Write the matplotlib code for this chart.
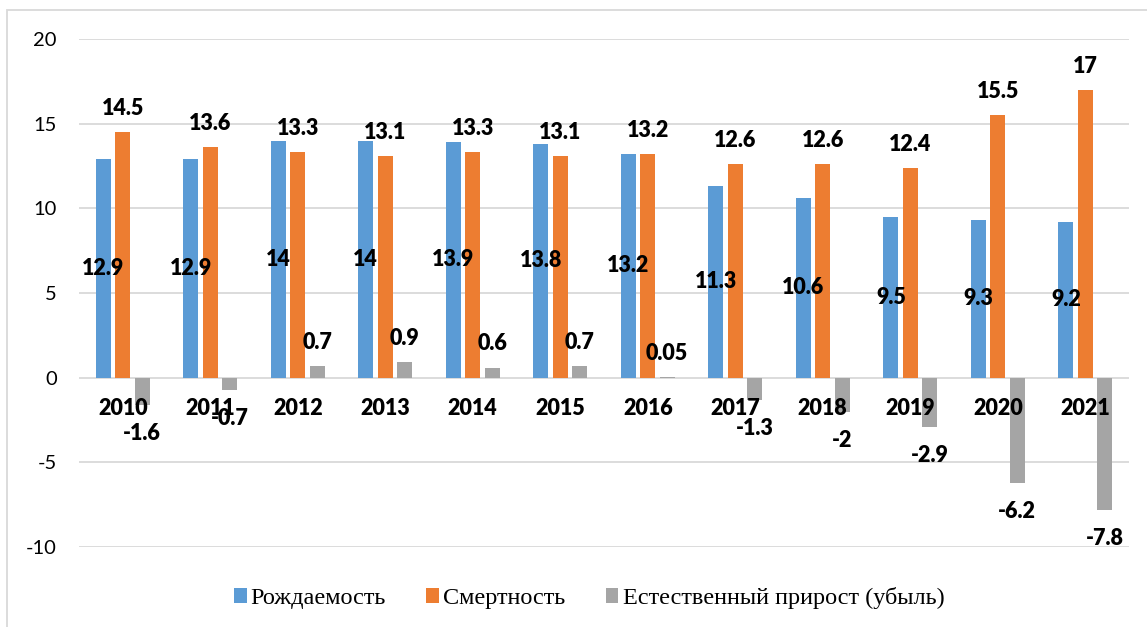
import matplotlib.pyplot as plt
from matplotlib.patches import Rectangle
import numpy as np

plt.rcParams['axes.unicode_minus'] = False

years = ['2010', '2011', '2012', '2013', '2014', '2015',
         '2016', '2017', '2018', '2019', '2020', '2021']
rozhd = [12.9, 12.9, 14, 14, 13.9, 13.8, 13.2, 11.3, 10.6, 9.5, 9.3, 9.2]
smert = [14.5, 13.6, 13.3, 13.1, 13.3, 13.1, 13.2, 12.6, 12.6, 12.4, 15.5, 17]
prirost = [-1.6, -0.7, 0.7, 0.9, 0.6, 0.7, 0.05, -1.3, -2, -2.9, -6.2, -7.8]

c_blue = '#5b9bd5'
c_orange = '#ed7d31'
c_gray = '#a5a5a5'
grid_c = '#d9d9d9'

fig = plt.figure(figsize=(11.47, 6.27), dpi=100)
ax = fig.add_axes([79 / 1147, 1 - 547 / 627, 1050 / 1147, 508 / 627])

x = np.arange(len(years))
w = 0.17
step = 0.222

b1 = ax.bar(x - step, rozhd, w, color=c_blue, label='Рождаемость', zorder=3)
b2 = ax.bar(x, smert, w, color=c_orange, label='Смертность', zorder=3)
b3 = ax.bar(x + step, prirost, w, color=c_gray, label='Естественный прирост (убыль)', zorder=3)

lab_font = dict(family='Lato', fontsize=15.5, fontweight='heavy', color='black')

def fmt(v):
    return f'{v:g}'

# рождаемость - подписи по центру столбца
for xi, v in zip(x - step, rozhd):
    ax.text(xi, v / 2, fmt(v), ha='center', va='center', zorder=5, **lab_font)

# смертность - над столбцом
for xi, v in zip(x, smert):
    ax.annotate(fmt(v), (xi, v), xytext=(0, 17), textcoords='offset points',
                ha='center', va='center', zorder=5, **lab_font)

# прирост - над или под столбцом
for xi, v in zip(x + step, prirost):
    off = 17 if v >= 0 else -21
    ax.annotate(fmt(v), (xi, v), xytext=(0, off), textcoords='offset points',
                ha='center', va='center', zorder=5, **lab_font)

# годы у нулевой линии
for xi, y in zip(x, years):
    ax.annotate(y, (xi, 0), xytext=(0, -22), textcoords='offset points',
                ha='center', va='center', zorder=6, **lab_font)

ax.set_xlim(-0.5, len(years) - 0.5)
ax.set_ylim(-10, 20)
ax.set_yticks([-10, -5, 0, 5, 10, 15, 20])
ax.set_xticks([])
ax.tick_params(axis='y', length=0, pad=16)
for t in ax.get_yticklabels():
    t.set_fontfamily('Lato')
    t.set_fontsize(14.5)
ax.grid(axis='y', color=grid_c, lw=1.3, zorder=0)
ax.set_axisbelow(True)
for s in ax.spines.values():
    s.set_visible(False)

fig.legend(handles=[b1, b2, b3], loc='center', bbox_to_anchor=(589 / 1147, 1 - 598 / 627),
           ncol=3, frameon=False, prop={'family': 'Liberation Serif', 'size': 17.5},
           handlelength=0.53, handleheight=0.53, handletextpad=0.17, columnspacing=1.65)

fig.patches.append(Rectangle((7 / 1147, -0.02), 1.1, 1.02 - 10 / 627, transform=fig.transFigure,
                             fill=False, edgecolor=grid_c, lw=1.3))

fig.savefig('out.png', dpi=100)
